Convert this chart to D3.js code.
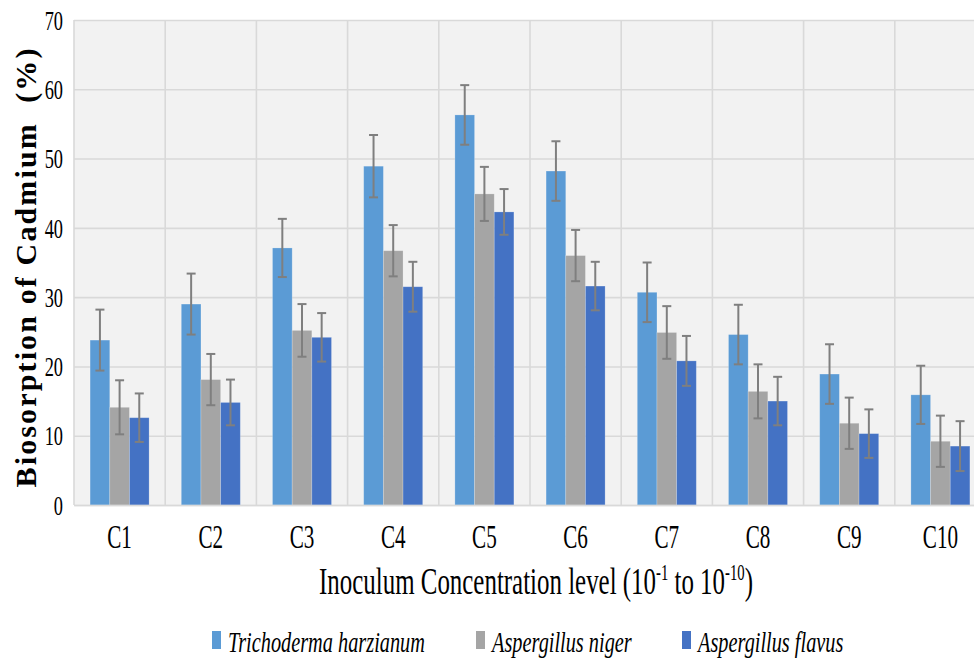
<!DOCTYPE html>
<html>
<head>
<meta charset="utf-8">
<script src="https://cdn.jsdelivr.net/npm/d3@7"></script>
<style>
  html, body { margin: 0; padding: 0; background: #fff; }
  svg { display: block; }
</style>
</head>
<body>
<svg id="chart" width="974" height="661"></svg>
<script>
// data
const categories = ["C1", "C2", "C3", "C4", "C5", "C6", "C7", "C8", "C9", "C10"];
const seriesNames = ["Trichoderma harzianum", "Aspergillus niger", "Aspergillus flavus"];
const seriesColors = ["#5b9bd5", "#a5a5a5", "#4472c4"];
const trichoderma = [23.8, 29.0, 37.1, 48.9, 56.3, 48.2, 30.7, 24.6, 18.9, 15.9];
const niger       = [14.1, 18.1, 25.2, 36.7, 44.9, 36.0, 24.9, 16.4, 11.8, 9.2];
const flavus      = [12.6, 14.8, 24.2, 31.5, 42.3, 31.6, 20.8, 15.0, 10.3, 8.5];
const errTrichoderma = [4.4, 4.4, 4.2, 4.5, 4.3, 4.3, 4.3, 4.3, 4.3, 4.2];
const errNiger       = [3.9, 3.7, 3.8, 3.7, 3.9, 3.7, 3.8, 3.9, 3.7, 3.7];
const errFlavus      = [3.5, 3.3, 3.5, 3.6, 3.3, 3.5, 3.6, 3.5, 3.5, 3.6];
const yTicks = [0, 10, 20, 30, 40, 50, 60, 70];

const values = [trichoderma, niger, flavus];
const errors = [errTrichoderma, errNiger, errFlavus];
const SERIF = '"Liberation Serif", "Times New Roman", serif';

const data = categories.map((c, i) => ({
    cat: c,
    bars: seriesNames.map((s, j) => ({ series: s, value: values[j][i], err: errors[j][i], color: seriesColors[j] }))
}));

const svg = d3.select("#chart");
const margin = { top: 20, left: 74 };
const plotW = 912, plotH = 485;

const x = d3.scaleBand().domain(categories).range([0, plotW]).padding(0);
const groupW = 59;
const x1 = d3.scaleBand().domain(seriesNames)
    .range([(x.bandwidth() - groupW) / 2, (x.bandwidth() + groupW) / 2]).padding(0);
const y = d3.scaleLinear().domain([0, 70]).range([plotH, 0]);

const chart = svg.append("g").attr("transform", `translate(${margin.left},${margin.top})`);

// plot background
chart.append("rect").attr("width", plotW).attr("height", plotH).attr("fill", "#f2f2f2");

// horizontal gridlines
chart.append("g")
    .call(d3.axisLeft(y).tickValues(yTicks).tickSize(-plotW).tickFormat(""))
    .call(g => g.select(".domain").remove())
    .selectAll("line").attr("stroke", "#d9d9d9").attr("stroke-width", 1.6);

// vertical gridlines at category boundaries
chart.append("g").selectAll("line")
    .data(categories)
    .join("line")
    .attr("x1", d => x(d)).attr("x2", d => x(d))
    .attr("y1", 0).attr("y2", plotH)
    .attr("stroke", "#d9d9d9").attr("stroke-width", 1.6);

// bars
const groups = chart.selectAll(".grp")
    .data(data)
    .join("g")
    .attr("class", "grp")
    .attr("transform", d => `translate(${x(d.cat)},0)`);

groups.selectAll("rect")
    .data(d => d.bars)
    .join("rect")
    .attr("x", d => x1(d.series))
    .attr("y", d => y(d.value))
    .attr("width", x1.bandwidth())
    .attr("height", d => plotH - y(d.value))
    .attr("fill", d => d.color)
    .attr("stroke", "rgba(255,255,255,0.25)")
    .attr("stroke-width", 0.8);

// error bars
const capW = 9;
const eb = groups.selectAll(".err")
    .data(d => d.bars)
    .join("g")
    .attr("class", "err")
    .attr("stroke", "#7f7f7f")
    .attr("stroke-width", 2);
eb.append("line")
    .attr("x1", d => x1(d.series) + x1.bandwidth() / 2)
    .attr("x2", d => x1(d.series) + x1.bandwidth() / 2)
    .attr("y1", d => y(d.value + d.err))
    .attr("y2", d => y(d.value - d.err));
eb.append("line")
    .attr("x1", d => x1(d.series) + x1.bandwidth() / 2 - capW / 2)
    .attr("x2", d => x1(d.series) + x1.bandwidth() / 2 + capW / 2)
    .attr("y1", d => y(d.value + d.err))
    .attr("y2", d => y(d.value + d.err));
eb.append("line")
    .attr("x1", d => x1(d.series) + x1.bandwidth() / 2 - capW / 2)
    .attr("x2", d => x1(d.series) + x1.bandwidth() / 2 + capW / 2)
    .attr("y1", d => y(d.value - d.err))
    .attr("y2", d => y(d.value - d.err));

// y axis labels (condensed serif)
chart.append("g")
    .call(d3.axisLeft(y).tickValues(yTicks).tickSize(0))
    .call(g => g.select(".domain").remove())
    .selectAll("text")
    .attr("x", 0).attr("dy", "0.34em")
    .attr("fill", "#000")
    .style("font-family", SERIF)
    .style("font-size", "27px")
    .attr("transform", "translate(-11,0) scale(0.68,1)");

// x axis labels
chart.append("g")
    .attr("transform", `translate(0,${plotH})`)
    .call(d3.axisBottom(x).tickSize(0))
    .call(g => g.select(".domain").attr("stroke", "#d9d9d9").attr("stroke-width", 1.6))
    .selectAll("text")
    .attr("y", 0).attr("dy", 0)
    .attr("fill", "#000")
    .style("font-family", SERIF)
    .style("font-size", "33px")
    .attr("transform", "translate(0,43) scale(0.64,1)");

// y axis title
svg.append("text")
    .attr("transform", "translate(36,268) rotate(-90)")
    .attr("text-anchor", "middle")
    .style("font-family", SERIF)
    .style("font-size", "30px")
    .style("font-weight", "bold")
    .style("white-space", "pre")
    .attr("textLength", 439)
    .attr("lengthAdjust", "spacing")
    .text("Biosorption of Cadmium  (%)");

// x axis title with superscripts, squeezed to the reference width
const xt = svg.append("text")
    .attr("text-anchor", "middle")
    .style("font-family", SERIF)
    .style("font-size", "39px");
xt.append("tspan").text("Inoculum Concentration level (10");
xt.append("tspan").style("font-size", "23px").attr("dy", -14).text("-1");
xt.append("tspan").attr("dy", 14).text(" to 10");
xt.append("tspan").style("font-size", "23px").attr("dy", -14).text("-10");
xt.append("tspan").attr("dy", 14).text(")");
const xtW = xt.node().getBBox().width;
xt.attr("transform", `translate(536,594) scale(${434 / xtW},1)`);

// legend
const legendX = [212, 476, 682];
const items = svg.append("g").selectAll("g")
    .data(seriesNames)
    .join("g")
    .attr("transform", (d, i) => `translate(${legendX[i]},0)`);
items.append("rect")
    .attr("x", 0).attr("y", 631)
    .attr("width", 9).attr("height", 18)
    .attr("fill", (d, i) => seriesColors[i]);
const lt = items.append("text")
    .style("font-family", SERIF)
    .style("font-size", "30px")
    .style("font-style", "italic")
    .text(d => d);
const ls = 197 / lt.nodes()[0].getComputedTextLength();
lt.attr("transform", `translate(16,652) scale(${ls},1)`);
</script>
</body>
</html>
